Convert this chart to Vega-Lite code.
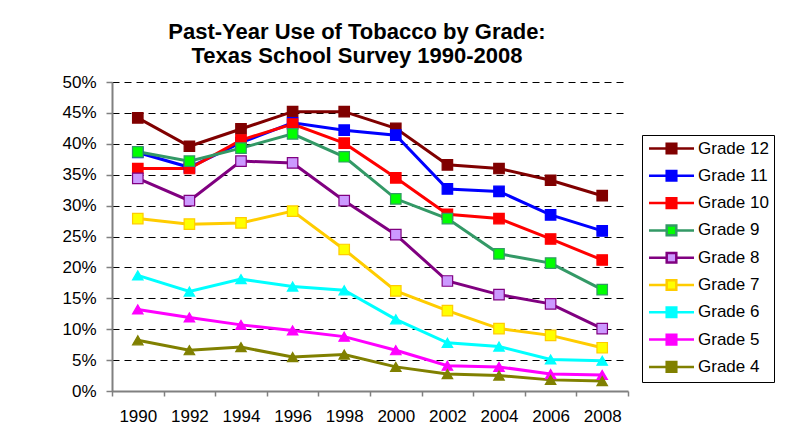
{
  "$schema": "https://vega.github.io/schema/vega-lite/v6.json",
  "autosize": {"type": "none"},
  "width": 516,
  "height": 309,
  "padding": {"left": 112, "top": 82, "right": 165, "bottom": 55},
  "background": "white",
  "title": {
    "text": ["Past-Year Use of Tobacco by Grade:", "Texas School Survey 1990-2008"],
    "font": "Liberation Sans",
    "fontSize": 22,
    "fontWeight": "bold",
    "lineHeight": 24,
    "anchor": "middle",
    "dx": -13,
    "offset": 5,
    "color": "black"
  },
  "config": {"view": {"stroke": null}, "font": "Liberation Sans"},
  "data": {
    "values": [
      {"year": "1990", "grade": "Grade 12", "pct": 0.442},
      {"year": "1992", "grade": "Grade 12", "pct": 0.396},
      {"year": "1994", "grade": "Grade 12", "pct": 0.424},
      {"year": "1996", "grade": "Grade 12", "pct": 0.452},
      {"year": "1998", "grade": "Grade 12", "pct": 0.452},
      {"year": "2000", "grade": "Grade 12", "pct": 0.425},
      {"year": "2002", "grade": "Grade 12", "pct": 0.366},
      {"year": "2004", "grade": "Grade 12", "pct": 0.360},
      {"year": "2006", "grade": "Grade 12", "pct": 0.341},
      {"year": "2008", "grade": "Grade 12", "pct": 0.316},
      {"year": "1990", "grade": "Grade 11", "pct": 0.386},
      {"year": "1992", "grade": "Grade 11", "pct": 0.362},
      {"year": "1994", "grade": "Grade 11", "pct": 0.402},
      {"year": "1996", "grade": "Grade 11", "pct": 0.434},
      {"year": "1998", "grade": "Grade 11", "pct": 0.422},
      {"year": "2000", "grade": "Grade 11", "pct": 0.414},
      {"year": "2002", "grade": "Grade 11", "pct": 0.327},
      {"year": "2004", "grade": "Grade 11", "pct": 0.323},
      {"year": "2006", "grade": "Grade 11", "pct": 0.285},
      {"year": "2008", "grade": "Grade 11", "pct": 0.259},
      {"year": "1990", "grade": "Grade 10", "pct": 0.360},
      {"year": "1992", "grade": "Grade 10", "pct": 0.360},
      {"year": "1994", "grade": "Grade 10", "pct": 0.406},
      {"year": "1996", "grade": "Grade 10", "pct": 0.432},
      {"year": "1998", "grade": "Grade 10", "pct": 0.401},
      {"year": "2000", "grade": "Grade 10", "pct": 0.345},
      {"year": "2002", "grade": "Grade 10", "pct": 0.286},
      {"year": "2004", "grade": "Grade 10", "pct": 0.279},
      {"year": "2006", "grade": "Grade 10", "pct": 0.246},
      {"year": "2008", "grade": "Grade 10", "pct": 0.212},
      {"year": "1990", "grade": "Grade 9", "pct": 0.387},
      {"year": "1992", "grade": "Grade 9", "pct": 0.372},
      {"year": "1994", "grade": "Grade 9", "pct": 0.393},
      {"year": "1996", "grade": "Grade 9", "pct": 0.416},
      {"year": "1998", "grade": "Grade 9", "pct": 0.379},
      {"year": "2000", "grade": "Grade 9", "pct": 0.311},
      {"year": "2002", "grade": "Grade 9", "pct": 0.279},
      {"year": "2004", "grade": "Grade 9", "pct": 0.222},
      {"year": "2006", "grade": "Grade 9", "pct": 0.207},
      {"year": "2008", "grade": "Grade 9", "pct": 0.164},
      {"year": "1990", "grade": "Grade 8", "pct": 0.344},
      {"year": "1992", "grade": "Grade 8", "pct": 0.308},
      {"year": "1994", "grade": "Grade 8", "pct": 0.372},
      {"year": "1996", "grade": "Grade 8", "pct": 0.369},
      {"year": "1998", "grade": "Grade 8", "pct": 0.308},
      {"year": "2000", "grade": "Grade 8", "pct": 0.253},
      {"year": "2002", "grade": "Grade 8", "pct": 0.178},
      {"year": "2004", "grade": "Grade 8", "pct": 0.156},
      {"year": "2006", "grade": "Grade 8", "pct": 0.141},
      {"year": "2008", "grade": "Grade 8", "pct": 0.101},
      {"year": "1990", "grade": "Grade 7", "pct": 0.279},
      {"year": "1992", "grade": "Grade 7", "pct": 0.270},
      {"year": "1994", "grade": "Grade 7", "pct": 0.272},
      {"year": "1996", "grade": "Grade 7", "pct": 0.291},
      {"year": "1998", "grade": "Grade 7", "pct": 0.229},
      {"year": "2000", "grade": "Grade 7", "pct": 0.162},
      {"year": "2002", "grade": "Grade 7", "pct": 0.130},
      {"year": "2004", "grade": "Grade 7", "pct": 0.101},
      {"year": "2006", "grade": "Grade 7", "pct": 0.090},
      {"year": "2008", "grade": "Grade 7", "pct": 0.070},
      {"year": "1990", "grade": "Grade 6", "pct": 0.187},
      {"year": "1992", "grade": "Grade 6", "pct": 0.161},
      {"year": "1994", "grade": "Grade 6", "pct": 0.181},
      {"year": "1996", "grade": "Grade 6", "pct": 0.169},
      {"year": "1998", "grade": "Grade 6", "pct": 0.163},
      {"year": "2000", "grade": "Grade 6", "pct": 0.116},
      {"year": "2002", "grade": "Grade 6", "pct": 0.078},
      {"year": "2004", "grade": "Grade 6", "pct": 0.072},
      {"year": "2006", "grade": "Grade 6", "pct": 0.051},
      {"year": "2008", "grade": "Grade 6", "pct": 0.049},
      {"year": "1990", "grade": "Grade 5", "pct": 0.132},
      {"year": "1992", "grade": "Grade 5", "pct": 0.119},
      {"year": "1994", "grade": "Grade 5", "pct": 0.107},
      {"year": "1996", "grade": "Grade 5", "pct": 0.098},
      {"year": "1998", "grade": "Grade 5", "pct": 0.088},
      {"year": "2000", "grade": "Grade 5", "pct": 0.066},
      {"year": "2002", "grade": "Grade 5", "pct": 0.041},
      {"year": "2004", "grade": "Grade 5", "pct": 0.039},
      {"year": "2006", "grade": "Grade 5", "pct": 0.0275},
      {"year": "2008", "grade": "Grade 5", "pct": 0.026},
      {"year": "1990", "grade": "Grade 4", "pct": 0.082},
      {"year": "1992", "grade": "Grade 4", "pct": 0.066},
      {"year": "1994", "grade": "Grade 4", "pct": 0.071},
      {"year": "1996", "grade": "Grade 4", "pct": 0.055},
      {"year": "1998", "grade": "Grade 4", "pct": 0.059},
      {"year": "2000", "grade": "Grade 4", "pct": 0.039},
      {"year": "2002", "grade": "Grade 4", "pct": 0.0275},
      {"year": "2004", "grade": "Grade 4", "pct": 0.025},
      {"year": "2006", "grade": "Grade 4", "pct": 0.018},
      {"year": "2008", "grade": "Grade 4", "pct": 0.016}
    ]
  },
  "encoding": {
    "x": {
      "field": "year",
      "type": "ordinal",
      "bandPosition": 0.5,
      "scale": {"type": "band", "paddingInner": 0, "paddingOuter": 0},
      "axis": {
        "title": null,
        "labelAngle": 0,
        "labelFont": "Liberation Sans",
        "labelFontSize": 17,
        "labelColor": "black",
        "labelPadding": 12,
        "domainColor": "#808080",
        "domainWidth": 2,
        "tickColor": "#808080",
        "tickWidth": 1.5,
        "tickSize": 5,
        "tickBand": "extent",
        "grid": false
      }
    },
    "y": {
      "field": "pct",
      "type": "quantitative",
      "scale": {"domain": [0, 0.5]},
      "axis": {
        "title": null,
        "values": [0, 0.05, 0.1, 0.15, 0.2, 0.25, 0.3, 0.35, 0.4, 0.45, 0.5],
        "format": ".0%",
        "labelFont": "Liberation Sans",
        "labelFontSize": 17,
        "labelColor": "black",
        "labelPadding": 10,
        "domainColor": "#808080",
        "domainWidth": 2,
        "tickColor": "#808080",
        "tickWidth": 1.5,
        "tickSize": 6,
        "grid": true,
        "gridColor": "black",
        "gridDash": [7, 5],
        "gridWidth": 1
      }
    }
  },
  "layer": [
    {
      "mark": {"type": "line", "strokeWidth": 3},
      "encoding": {
        "color": {
          "field": "grade",
          "type": "nominal",
          "sort": ["Grade 12", "Grade 11", "Grade 10", "Grade 9", "Grade 8", "Grade 7", "Grade 6", "Grade 5", "Grade 4"],
          "scale": {
            "range": ["#800000", "#0000FF", "#FF0000", "#339966", "#800080", "#FFCC00", "#00FFFF", "#FF00FF", "#808000"]
          },
          "legend": null
        }
      }
    },
    {
      "mark": {"type": "point", "filled": true, "opacity": 1, "strokeWidth": 1.2},
      "encoding": {
        "fill": {
          "field": "grade",
          "type": "nominal",
          "scale": {
            "domain": ["Grade 12", "Grade 11", "Grade 10", "Grade 9", "Grade 8", "Grade 7", "Grade 6", "Grade 5", "Grade 4"],
            "range": ["#800000", "#0000FF", "#FF0000", "#00FF00", "#CC99FF", "#FFFF00", "#00FFFF", "#FF00FF", "#808000"]
          },
          "legend": {
            "title": null,
            "orient": "none",
            "legendX": 530,
            "legendY": 53,
            "strokeColor": "black",
            "fillColor": "white",
            "padding": 5,
            "cornerRadius": 0,
            "labelFont": "Liberation Sans",
            "labelFontSize": 17,
            "labelColor": "black",
            "labelLimit": 200,
            "symbolType": "M-3.75,0H-0.8M0.8,0H3.75M-0.8,-0.8H0.8V0.8H-0.8Z",
            "symbolSize": 144,
            "symbolStrokeWidth": 2.5,
            "symbolOpacity": 1,
            "symbolOffset": 16,
            "labelOffset": 18,
            "rowPadding": 6.3
          }
        },
        "stroke": {
          "field": "grade",
          "type": "nominal",
          "scale": {
            "domain": ["Grade 12", "Grade 11", "Grade 10", "Grade 9", "Grade 8", "Grade 7", "Grade 6", "Grade 5", "Grade 4"],
            "range": ["#800000", "#0000FF", "#FF0000", "#339966", "#800080", "#FFCC00", "#00FFFF", "#FF00FF", "#808000"]
          }
        },
        "shape": {
          "field": "grade",
          "type": "nominal",
          "sort": ["Grade 12", "Grade 11", "Grade 10", "Grade 9", "Grade 8", "Grade 7", "Grade 6", "Grade 5", "Grade 4"],
          "scale": {
            "range": ["square", "square", "square", "square", "square", "square", "triangle-up", "triangle-up", "triangle-up"]
          },
          "legend": null
        },
        "size": {
          "field": "grade",
          "type": "ordinal",
          "sort": ["Grade 12", "Grade 11", "Grade 10", "Grade 9", "Grade 8", "Grade 7", "Grade 6", "Grade 5", "Grade 4"],
          "scale": {
            "range": [110, 110, 110, 110, 110, 110, 150, 150, 150]
          },
          "legend": null
        }
      }
    }
  ]
}
